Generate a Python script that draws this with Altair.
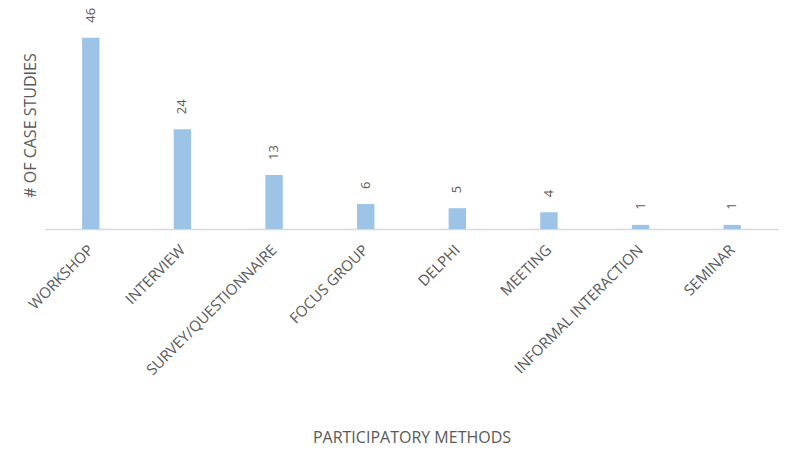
import altair as alt
import pandas as pd

methods = ["WORKSHOP", "INTERVIEW", "SURVEY/QUESTIONNAIRE", "FOCUS GROUP",
           "DELPHI", "MEETING", "INFORMAL INTERACTION", "SEMINAR"]
counts = [46, 24, 13, 6, 5, 4, 1, 1]

df = pd.DataFrame({"method": methods, "count": counts})

FONT = "Open Sans"
GREY = "#595959"

x_enc = alt.X(
    "method:N", sort=methods,
    scale=alt.Scale(paddingInner=0.81, paddingOuter=0.405),
    axis=alt.Axis(
        title="PARTICIPATORY METHODS", titleFont=FONT, titleFontSize=16,
        titleFontWeight="normal", titleColor=GREY, titleY=208,
        titleBaseline="middle",
        labelAngle=-45, labelAlign="right", labelBaseline="middle",
        labelFont=FONT, labelFontSize=15, labelColor=GREY, labelPadding=18,
        labelLimit=400, labelOverlap=False,
        ticks=False, domainColor="#d9d9d9", domainWidth=1.5, grid=False,
    ),
)
y_enc = alt.Y(
    "count:Q", scale=alt.Scale(domain=[0, 50], nice=False),
    axis=alt.Axis(
        title="# OF CASE STUDIES", titleFont=FONT, titleFontSize=16,
        titleFontWeight="normal", titleColor=GREY, titleAngle=-90,
        titleX=-15, titleY=104, titleAlign="center", titleBaseline="middle",
        labels=False, ticks=False, domain=False, grid=False,
    ),
)

bars = alt.Chart(df).mark_bar(color="#9dc3e6").encode(x=x_enc, y=y_enc)

labels = alt.Chart(df).mark_text(
    angle=270, align="left", baseline="middle", dx=15,
    font=FONT, fontSize=13, color=GREY,
).encode(x=alt.X("method:N", sort=methods), y="count:Q", text="count:Q")

chart = (bars + labels).properties(
    width=733, height=208,
    autosize=alt.AutoSizeParams(type="none"),
    padding={"left": 45, "top": 21, "right": 13, "bottom": 233},
    background="white",
).configure_view(stroke=None)

chart.save("out.html", embed_options={"renderer": "svg", "actions": False})
